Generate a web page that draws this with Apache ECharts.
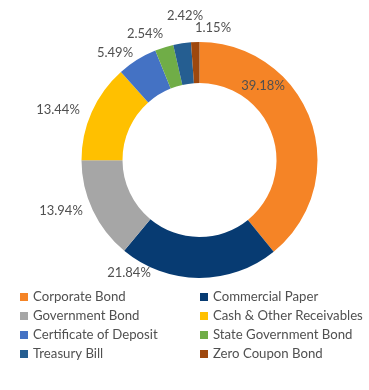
<!DOCTYPE html>
<html><head><meta charset="utf-8">
<script src="https://cdn.jsdelivr.net/npm/echarts@6/dist/echarts.min.js"></script>
<style>html,body{margin:0;padding:0;background:#fff}#c{width:369px;height:390px}</style>
</head><body><div id="c"></div>
<script>
const categories = ["Corporate Bond","Commercial Paper","Government Bond","Cash & Other Receivables","Certificate of Deposit","State Government Bond","Treasury Bill","Zero Coupon Bond"];
const values = [39.18, 21.84, 13.94, 13.44, 5.49, 2.54, 2.42, 1.15];
const colors = ["#F58426","#073B72","#A6A6A6","#FFC000","#4472C4","#70AD47","#255E91","#9E480E"];
const leftLegend = ["Corporate Bond","Government Bond","Certificate of Deposit","Treasury Bill"];
const rightLegend = ["Commercial Paper","Cash & Other Receivables","State Government Bond","Zero Coupon Bond"];
// label placement (pixel positions for the data labels, as in the reference)
const labelPos = [[263,86],[129,273],[61,211],[58,110],[115,53],[145,34],[185,16],[213,28]];

const chart = echarts.init(document.getElementById('c'), null, {renderer:'canvas'});
const font = 'Lato, "Open Sans", sans-serif';
const legendCommon = {
  orient:'vertical', icon:'rect', itemWidth:8, itemHeight:8, itemGap:5,
  textStyle:{fontFamily:font, fontSize:13.2, color:'#505050', lineHeight:14, padding:0},
  top:285, selectedMode:false
};
chart.setOption({
  animation:false,
  color: colors,
  legend:[
    Object.assign({left:15, data:leftLegend}, legendCommon),
    Object.assign({left:195, data:rightLegend}, legendCommon)
  ],
  series:[{
    type:'pie',
    center:[199.5,160],
    radius:[77,118],
    startAngle:90,
    clockwise:true,
    avoidLabelOverlap:false,
    data: categories.map((n,i)=>({name:n, value:values[i]})),
    label:{show:true, position:'outside', formatter:p=>values[p.dataIndex].toFixed(2)+'%',
      fontFamily:font, fontSize:13, color:'#505050'},
    labelLine:{show:false},
    labelLayout: p => ({x:labelPos[p.dataIndex][0], y:labelPos[p.dataIndex][1], align:'center', verticalAlign:'middle'}),
    itemStyle:{borderWidth:0},
    emphasis:{disabled:true}
  }]
});
</script></body></html>
